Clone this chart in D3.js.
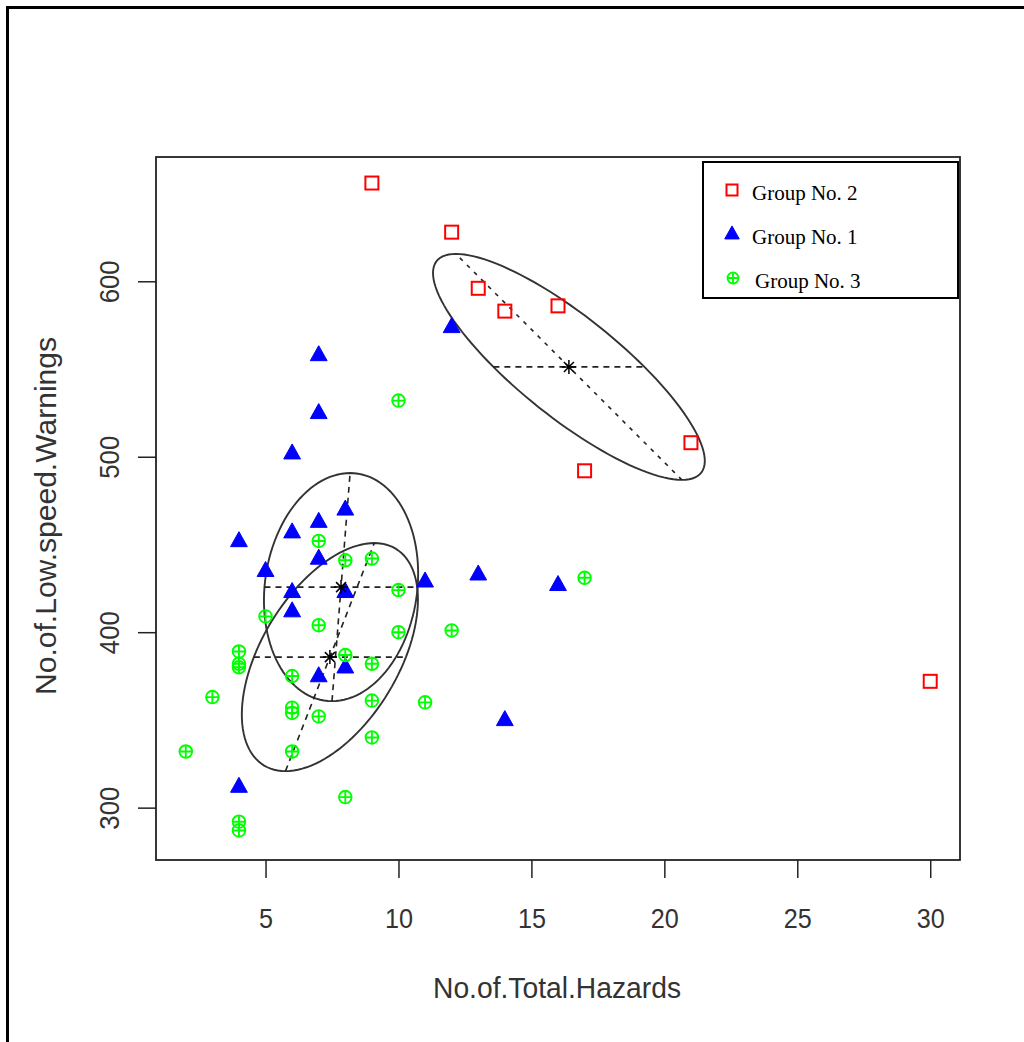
<!DOCTYPE html>
<html>
<head>
<meta charset="utf-8">
<script src="https://cdn.jsdelivr.net/npm/d3@7"></script>
<style>
  html, body { margin: 0; padding: 0; background: #fff; }
  svg { display: block; }
</style>
</head>
<body>
<svg id="chart" width="1024" height="1042"></svg>
<script>
// ---- data ----
const group2X = [9, 12, 13, 14, 16, 17, 21, 30];
const group2Y = [656, 628, 596, 583, 586, 492, 508, 372];

const group1X = [12, 7, 7, 6, 8, 7, 6, 4, 7, 5, 6, 8, 11, 6, 7, 8, 4, 13, 16, 14];
const group1Y = [574, 558, 525, 502, 470, 463, 457, 452, 442, 435, 423, 423, 429, 412, 375, 380, 312, 433, 427, 350];

const group3X = [10, 7, 8, 9, 10, 5, 7, 10, 12, 4, 4, 4, 8, 9, 6, 3, 9, 11, 6, 6, 7, 9, 2, 6, 8, 4, 4, 17];
const group3Y = [532, 452, 441, 442, 424, 409, 404, 400, 401, 389, 382, 380, 387, 382, 375, 363, 361, 360, 357, 354, 352, 340, 332, 332, 306, 292, 287, 431];

// ellipse: centre, horizontal semi-diameter, conjugate semi-diameter (data units)
const ellipseNames = ["Group No. 2", "Group No. 1", "Group No. 3"];
const ellipseCX = [16.41, 7.84, 7.42];
const ellipseCY = [551.2, 425.7, 385.8];
const ellipseUX = [2.84, 2.88, 2.86];
const ellipseVX = [-4.25, 0.34, 1.67];
const ellipseVY = [64.4, 65.0, 65.0];

const xTicks = [5, 10, 15, 20, 25, 30];
const yTicks = [300, 400, 500, 600];
const legendLabels = ["Group No. 2", "Group No. 1", "Group No. 3"];
const xTitle = "No.of.Total.Hazards";
const yTitle = "No.of.Low.speed.Warnings";

// ---- drawing ----
const svg = d3.select("#chart");
const L = 156, R = 960, T = 157, B = 860;

const x = d3.scaleLinear().domain([0.88, 31.12]).range([L, R]);
const y = d3.scaleLinear().domain([270.16, 670.84]).range([B, T]);

// page frame
svg.append("rect").attr("x", 7.5).attr("y", 7.5).attr("width", 1030).attr("height", 1050)
  .attr("fill", "none").attr("stroke", "#000").attr("stroke-width", 3);

// axes
const axisFont = "'Liberation Sans', Arial, sans-serif";
const xAxis = svg.append("g").attr("transform", `translate(0,${B})`)
  .call(d3.axisBottom(x).tickValues(xTicks).tickSize(18).tickSizeOuter(0));
xAxis.select(".domain").remove();
xAxis.selectAll("line").attr("stroke", "#222").attr("stroke-width", 1.5);
xAxis.selectAll("text").attr("font-family", axisFont).attr("font-size", 28).attr("fill", "#333")
  .attr("dy", null).attr("y", 68).attr("transform", "scale(0.9,1)");

const yAxis = svg.append("g").attr("transform", `translate(${L},0)`)
  .call(d3.axisLeft(y).tickValues(yTicks).tickSize(18).tickSizeOuter(0));
yAxis.select(".domain").remove();
yAxis.selectAll("line").attr("stroke", "#222").attr("stroke-width", 1.5);
yAxis.selectAll("text").attr("font-family", axisFont).attr("font-size", 28).attr("fill", "#333")
  .attr("text-anchor", "middle").attr("dy", null).attr("x", 0).attr("y", 0)
  .attr("transform", "translate(-37,0) rotate(-90) scale(0.92,1)");

// plot box
svg.append("rect").attr("x", L).attr("y", T).attr("width", R - L).attr("height", B - T)
  .attr("fill", "none").attr("stroke", "#222").attr("stroke-width", 1.8);

// axis titles
svg.append("text").attr("x", (L + R) / 2 - 1).attr("y", 998).attr("text-anchor", "middle")
  .attr("font-family", axisFont).attr("font-size", 30).attr("fill", "#333")
  .attr("textLength", 248).attr("lengthAdjust", "spacingAndGlyphs").text(xTitle);
svg.append("text").attr("transform", "translate(56,516) rotate(-90)").attr("text-anchor", "middle")
  .attr("font-family", axisFont).attr("font-size", 30).attr("fill", "#333")
  .attr("textLength", 358).attr("lengthAdjust", "spacingAndGlyphs").text(yTitle);

// ellipses
const plot = svg.append("g");
const tSteps = d3.range(0, 121).map(i => i / 120 * 2 * Math.PI);
ellipseNames.forEach((n, i) => {
  const cx = ellipseCX[i], cy = ellipseCY[i], ux = ellipseUX[i], vx = ellipseVX[i], vy = ellipseVY[i];
  const pts = tSteps.map(t => [x(cx + ux * Math.cos(t) + vx * Math.sin(t)), y(cy + vy * Math.sin(t))]);
  plot.append("path").attr("d", d3.line()(pts)).attr("fill", "none")
    .attr("stroke", "#333").attr("stroke-width", 1.9);
  plot.append("line").attr("x1", x(cx - ux)).attr("y1", y(cy)).attr("x2", x(cx + ux)).attr("y2", y(cy))
    .attr("stroke", "#222").attr("stroke-width", 1.7).attr("stroke-dasharray", "6,5");
  plot.append("line").attr("x1", x(cx - vx)).attr("y1", y(cy - vy)).attr("x2", x(cx + vx)).attr("y2", y(cy + vy))
    .attr("stroke", "#222").attr("stroke-width", 1.6).attr("stroke-dasharray", i === 0 ? "4,6" : "6,5");
});

// symbols
function square(g, px, py, s) {
  g.append("rect").attr("x", px - s / 2).attr("y", py - s / 2).attr("width", s).attr("height", s)
    .attr("fill", "none").attr("stroke", "#ff0000").attr("stroke-width", 2);
}
function triangle(g, px, py, s) {
  g.append("path").attr("d", `M${px},${py - s * 0.62}L${px + s * 0.56},${py + s * 0.38}L${px - s * 0.56},${py + s * 0.38}Z`)
    .attr("fill", "#0000ff").attr("stroke", "#0000ff").attr("stroke-width", 1);
}
function circlePlus(g, px, py, r) {
  g.append("circle").attr("cx", px).attr("cy", py).attr("r", r)
    .attr("fill", "none").attr("stroke", "#00ff00").attr("stroke-width", 1.9);
  g.append("path").attr("d", `M${px - r},${py}H${px + r}M${px},${py - r}V${py + r}`)
    .attr("stroke", "#00ff00").attr("stroke-width", 1.9);
}

group2X.forEach((d, i) => square(plot, x(d), y(group2Y[i]), 13));
group1X.forEach((d, i) => triangle(plot, x(d), y(group1Y[i]), 15));
group3X.forEach((d, i) => circlePlus(plot, x(d), y(group3Y[i]), 6.3));

// centres (asterisks)
ellipseNames.forEach((n, i) => {
  const px = x(ellipseCX[i]), py = y(ellipseCY[i]), a = 7, b = 5;
  plot.append("path")
    .attr("d", `M${px - a},${py}H${px + a}M${px},${py - a}V${py + a}M${px - b},${py - b}L${px + b},${py + b}M${px - b},${py + b}L${px + b},${py - b}`)
    .attr("stroke", "#000").attr("stroke-width", 1.5);
});

// legend
const lg = svg.append("g");
lg.append("rect").attr("x", 703).attr("y", 162).attr("width", 255).attr("height", 136)
  .attr("fill", "#fff").attr("stroke", "#000").attr("stroke-width", 2);
const legendY = [190, 233, 278];
const legendTextX = [752, 752, 755];
const legendBase = [200, 244, 288];
square(lg, 732, legendY[0], 11);
triangle(lg, 732, legendY[1] + 1, 13);
circlePlus(lg, 733, legendY[2], 5.5);
legendLabels.forEach((t, i) => {
  lg.append("text").attr("x", legendTextX[i]).attr("y", legendBase[i])
    .attr("font-family", "'Liberation Serif', 'Times New Roman', serif").attr("font-size", 21)
    .attr("fill", "#000").text(t);
});
</script>
</body>
</html>
